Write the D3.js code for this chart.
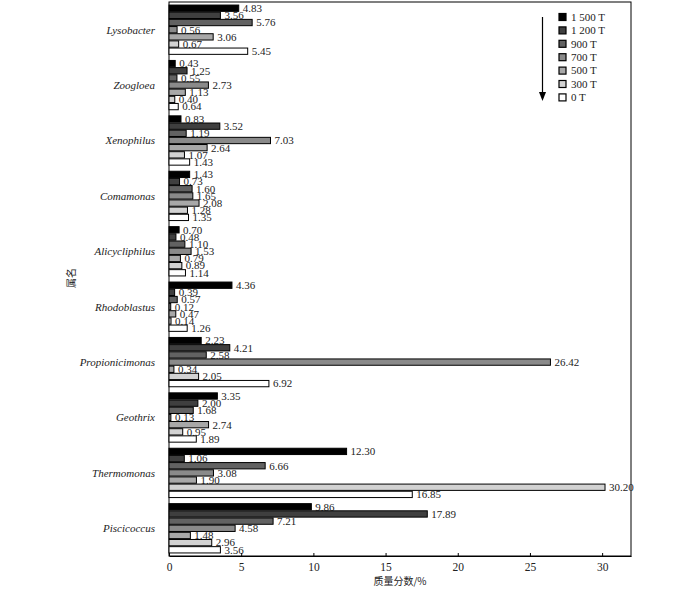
<!DOCTYPE html>
<html><head><meta charset="utf-8">
<script src="https://cdn.jsdelivr.net/npm/d3@7/dist/d3.min.js"></script>
<style>body{margin:0;background:#fff}svg{display:block}</style>
</head><body><div id="chart"></div>
<script>
const categories = ["Lysobacter","Zoogloea","Xenophilus","Comamonas","Alicycliphilus","Rhodoblastus","Propionicimonas","Geothrix","Thermomonas","Piscicoccus"];
const seriesNames = ["1 500 T","1 200 T","900 T","700 T","500 T","300 T","0 T"];
const seriesColors = ["#000000","#3f3f3f","#626262","#8a8a8a","#a8a8a8","#d2d2d2","#ffffff"];
const s1500 = [4.83,0.43,0.83,1.43,0.70,4.36,2.23,3.35,12.30,9.86];
const s1200 = [3.56,1.25,3.52,0.73,0.48,0.39,4.21,2.00,1.06,17.89];
const s900  = [5.76,0.55,1.19,1.60,1.10,0.57,2.58,1.68,6.66,7.21];
const s700  = [0.56,2.73,7.03,1.65,1.53,0.12,26.42,0.13,3.08,4.58];
const s500  = [3.06,1.13,2.64,2.08,0.79,0.47,0.34,2.74,1.90,1.48];
const s300  = [0.67,0.40,1.07,1.28,0.89,0.14,2.05,0.95,30.20,2.96];
const s0    = [5.45,0.64,1.43,1.35,1.14,1.26,6.92,1.89,16.85,3.56];
const xTicks = [0,5,10,15,20,25,30];
const xTitle = "质量分数/%";
const yTitle = "属名";

const series = [s1500,s1200,s900,s700,s500,s300,s0];
const W = 700, H = 590;
const m = {left:169, right:631, top:2, bottom:556};
const svg = d3.select("#chart").append("svg").attr("width",W).attr("height",H);
const serif = "Liberation Serif, DejaVu Serif, serif";

const x = d3.scaleLinear().domain([0,32]).range([m.left,m.right]);
const y0 = d3.scaleBand().domain(categories).range([m.top,m.bottom]).paddingInner(0.11).paddingOuter(0.055);
const y1 = d3.scaleBand().domain(d3.range(seriesNames.length)).range([0,y0.bandwidth()]).paddingInner(0.12);

// frame
svg.append("rect").attr("x",m.left).attr("y",m.top).attr("width",m.right-m.left).attr("height",m.bottom-m.top)
  .attr("fill","none").attr("stroke","#000").attr("stroke-width",1);

const g = svg.append("g");
categories.forEach((c,ci)=>{
  series.forEach((s,si)=>{
    const v = s[ci];
    const yy = y0(c)+y1(si);
    g.append("rect").attr("x",x(0)).attr("y",yy).attr("width",x(v)-x(0)).attr("height",y1.bandwidth())
      .attr("fill",seriesColors[si]).attr("stroke","#000").attr("stroke-width",1);
    g.append("text").attr("x",x(v)+4).attr("y",yy+y1.bandwidth()/2).attr("dy","0.35em")
      .attr("font-family",serif).attr("font-size",11).attr("fill","#222").text(v.toFixed(2));
  });
  svg.append("text").attr("x",155).attr("y",y0(c)+y0.bandwidth()/2).attr("dy","0.35em")
    .attr("text-anchor","end").attr("font-family",serif).attr("font-style","italic").attr("font-size",11)
    .attr("fill","#222").text(c);
});

// x axis
const xAxis = d3.axisBottom(x).tickValues(xTicks).tickSizeInner(-3).tickSizeOuter(0).tickPadding(7);
const ax = svg.append("g").attr("transform",`translate(0,${m.bottom})`).call(xAxis);
ax.select(".domain").attr("stroke","#000");
ax.selectAll("text").attr("font-family",serif).attr("font-size",11.5).attr("fill","#222");

svg.append("text").attr("x",400).attr("y",585).attr("text-anchor","middle")
  .attr("font-family","Noto Sans CJK SC, sans-serif").attr("font-size",10).attr("fill","#222").text(xTitle);
svg.append("text").attr("transform","translate(75,278) rotate(-90)").attr("text-anchor","middle")
  .attr("font-family","Noto Sans CJK SC, sans-serif").attr("font-size",10).attr("fill","#222").text(yTitle);

// legend
const lg = svg.append("g");
seriesNames.forEach((n,i)=>{
  const ly = 17 + i*13.4;
  lg.append("rect").attr("x",559).attr("y",ly-3.5).attr("width",7).attr("height",7)
    .attr("fill",seriesColors[i]).attr("stroke","#000").attr("stroke-width",1.2);
  lg.append("text").attr("x",571).attr("y",ly).attr("dy","0.35em").attr("font-family",serif)
    .attr("font-size",11).attr("fill","#222").text(n);
});
// arrow
lg.append("line").attr("x1",542.5).attr("x2",542.5).attr("y1",17).attr("y2",94).attr("stroke","#000").attr("stroke-width",1.2);
lg.append("path").attr("d","M539,92 L546,92 L542.5,101 Z").attr("fill","#000");
</script></body></html>
